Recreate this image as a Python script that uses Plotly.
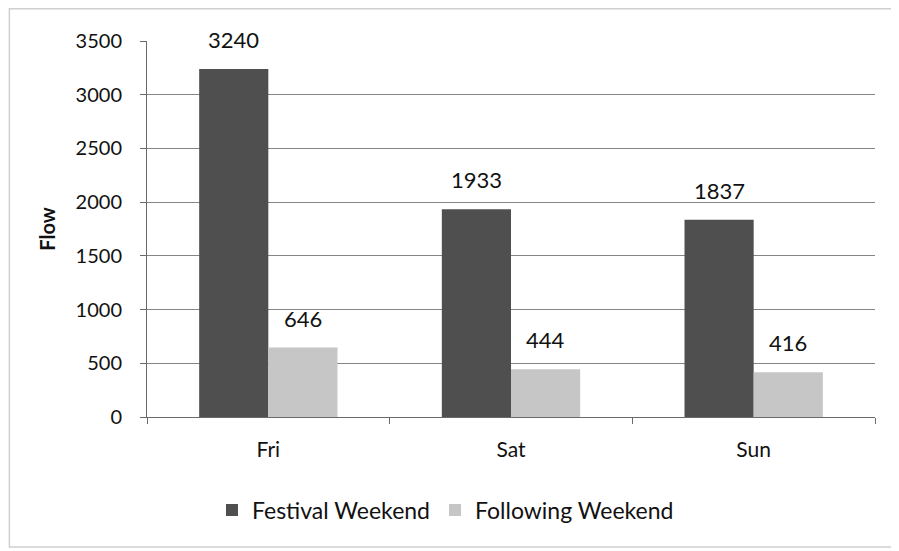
import plotly.graph_objects as go

days = ["Fri", "Sat", "Sun"]
festival = [3240, 1933, 1837]
following = [646, 444, 416]
y_ticks = [0, 500, 1000, 1500, 2000, 2500, 3000, 3500]

font_family = "Lato, Carlito, 'Open Sans', sans-serif"
BARGAP = 0.43

fig = go.Figure()
fig.add_trace(go.Bar(
    x=days, y=festival, name="Festival Weekend",
    marker=dict(color="#4f4f4f", line=dict(width=0)),
))
fig.add_trace(go.Bar(
    x=days, y=following, name="Following Weekend",
    marker=dict(color="#c6c6c6", line=dict(width=0)),
))

# data labels above each bar (positioned via axis coordinates)
half = (1 - BARGAP) / 4  # centre offset of each bar in category units
for i, d in enumerate(days):
    for vals, off in ((festival, -half), (following, half)):
        fig.add_annotation(
            x=i + off, y=vals[i], xref="x", yref="y",
            text=str(vals[i]), showarrow=False,
            yanchor="bottom", yshift=14,
            font=dict(size=22, color="#111111", family=font_family),
        )

fig.update_layout(
    width=899, height=551,
    margin=dict(l=139, r=32, t=33, b=142),
    paper_bgcolor="white", plot_bgcolor="white",
    barmode="group", bargap=BARGAP, bargroupgap=0,
    font=dict(family=font_family, color="#111111", size=20),
    showlegend=True,
    legend=dict(orientation="h", x=0.41, xanchor="center", y=-0.19, yanchor="top",
                font=dict(size=23), itemwidth=30, traceorder="normal"),
)
fig.update_yaxes(
    range=[0, 3500], tickvals=y_ticks, ticktext=[str(v) for v in y_ticks],
    showgrid=True, gridcolor="#858585", gridwidth=1,
    showline=True, linecolor="#6a6a6a", linewidth=1,
    ticks="outside", ticklen=6, tickcolor="#6a6a6a",
    tickfont=dict(size=20), zeroline=False, ticklabelstandoff=14,
    title=dict(text="<b>Flow</b>", font=dict(size=20), standoff=14),
)
fig.update_xaxes(
    showline=True, linecolor="#6a6a6a", linewidth=1,
    ticks="outside", ticklen=6, tickcolor="#6a6a6a",
    tickson="boundaries", tickfont=dict(size=21), ticklabelstandoff=14,
    showgrid=False,
)
# faint chart border
fig.add_shape(type="rect", xref="paper", yref="paper",
              x0=-0.189, x1=1.029, y0=-0.346, y1=1.086,
              line=dict(color="#cfcfcf", width=1.5), layer="below")

fig.write_html("out.html")
